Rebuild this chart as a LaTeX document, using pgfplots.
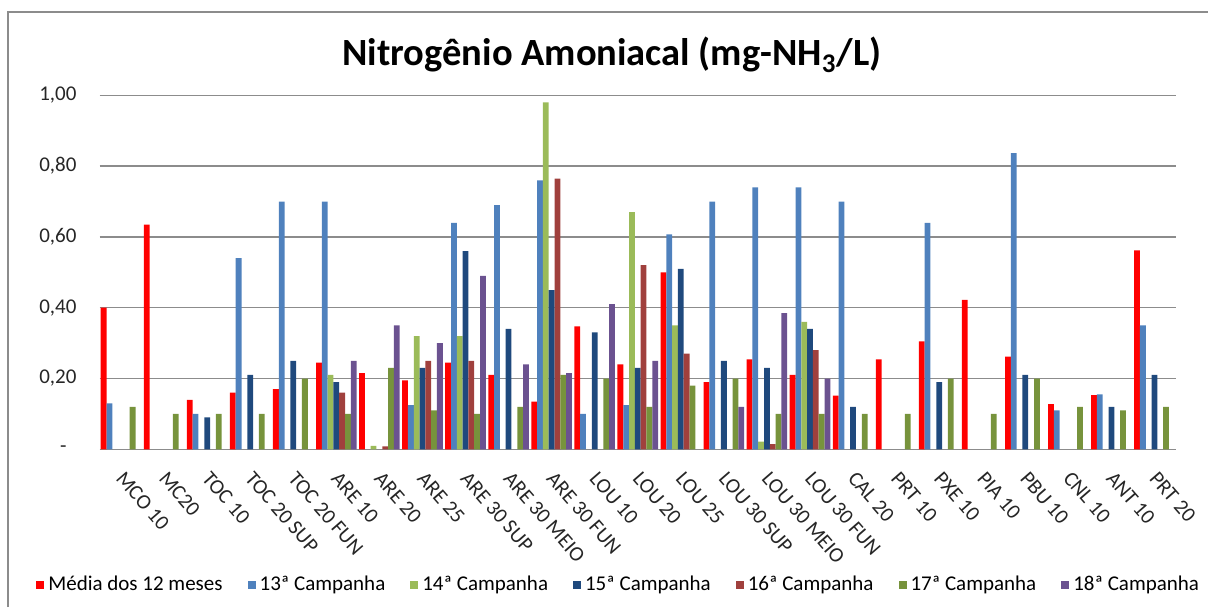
\documentclass[border=0pt]{standalone}
\usepackage{pgfplots}
\pgfplotsset{compat=1.18}
\usepackage{fontspec}
\setmainfont{Carlito}
\definecolor{cMed}{HTML}{FF0000}
\definecolor{c13}{HTML}{4F81BD}
\definecolor{c14}{HTML}{9BBB59}
\definecolor{c15}{HTML}{1F497D}
\definecolor{c16}{HTML}{A0403D}
\definecolor{c17}{HTML}{77933C}
\definecolor{c18}{HTML}{6B5290}
\definecolor{gridgray}{HTML}{8C8C8C}
\begin{document}
\begin{tikzpicture}
\useasboundingbox (0,0) rectangle (604pt,-303.5pt);
\draw[color=gridgray, line width=1pt] (4pt,-303.5pt) -- (4pt,-6pt) -- (604pt,-6pt);
\begin{axis}[
  at={(49.75pt,-224.65pt)}, anchor=south west,
  scale only axis, width=538.25pt, height=177pt,
  xmin=-0.5, xmax=24.5, ymin=0, ymax=1,
  ybar=0pt, bar width=2.9pt,
  xtick={0,...,24},
  xticklabels={MCO 10,MC20,TOC 10,TOC 20 SUP,TOC 20 FUN,ARE 10,ARE 20,ARE 25,ARE 30 SUP,ARE 30 MEIO,ARE 30 FUN,LOU 10,LOU 20,LOU 25,LOU 30 SUP,LOU 30 MEIO,LOU 30 FUN,CAL 20,PRT 10,PXE 10,PIA 10,PBU 10,CNL 10,ANT 10,PRT 20},
  ytick={0,0.2,0.4,0.6,0.8,1},
  yticklabels={{-\hspace*{5pt}},{0,20},{0,40},{0,60},{0,80},{1,00}},
  ymajorgrids, major grid style={gridgray, line width=0.65pt},
  axis line style={draw=none}, major tick length=0pt,
  tick label style={font=\fontsize{10.5}{12}\selectfont, text=black!85},
  yticklabel style={xshift=-8pt},
  xticklabel style={xshift=2.5pt, yshift=-5.5pt, rotate=-49, anchor=north west},
  every axis title shift=0pt,
  title={Nitrogênio Amoniacal (mg-NH\textsubscript{3}/L)},
  title style={at={(0.476,1.083)}, anchor=base, font=\fontsize{19.25}{22}\selectfont\bfseries},
  legend columns=7,
  legend style={at={(-0.0646,-0.383)}, anchor=west, draw=none, fill=none,
    font=\fontsize{10.5}{12}\selectfont,
    /tikz/every even column/.append style={column sep=10.5pt}},
  legend image code/.code={\draw[#1,draw=none] (0pt,-2pt) rectangle (4pt,2pt);},
]
\addplot[fill=cMed, draw=none] coordinates {(0,0.40) (1,0.635) (2,0.14) (3,0.16) (4,0.17) (5,0.245) (6,0.215) (7,0.195) (8,0.245) (9,0.21) (10,0.135) (11,0.347) (12,0.24) (13,0.50) (14,0.19) (15,0.254) (16,0.21) (17,0.152) (18,0.254) (19,0.305) (20,0.422) (21,0.262) (22,0.128) (23,0.153) (24,0.562)};
\addplot[fill=c13, draw=none] coordinates {(0,0.13) (2,0.10) (3,0.54) (4,0.70) (5,0.70) (7,0.125) (8,0.64) (9,0.69) (10,0.76) (11,0.10) (12,0.125) (13,0.607) (14,0.70) (15,0.74) (16,0.74) (17,0.70) (19,0.64) (21,0.837) (22,0.11) (23,0.155) (24,0.35)};
\addplot[fill=c14, draw=none] coordinates {(5,0.21) (6,0.01) (7,0.32) (8,0.32) (10,0.98) (12,0.67) (13,0.35) (15,0.022) (16,0.36)};
\addplot[fill=c15, draw=none] coordinates {(2,0.09) (3,0.21) (4,0.25) (5,0.19) (7,0.23) (8,0.56) (9,0.34) (10,0.45) (11,0.33) (12,0.23) (13,0.51) (14,0.25) (15,0.23) (16,0.34) (17,0.12) (19,0.19) (21,0.21) (23,0.12) (24,0.21)};
\addplot[fill=c16, draw=none] coordinates {(5,0.16) (6,0.008) (7,0.25) (8,0.25) (10,0.765) (12,0.52) (13,0.27) (15,0.015) (16,0.28)};
\addplot[fill=c17, draw=none] coordinates {(0,0.12) (1,0.10) (2,0.10) (3,0.10) (4,0.20) (5,0.10) (6,0.23) (7,0.11) (8,0.10) (9,0.12) (10,0.21) (11,0.20) (12,0.12) (13,0.18) (14,0.20) (15,0.10) (16,0.10) (17,0.10) (18,0.10) (19,0.20) (20,0.10) (21,0.20) (22,0.12) (23,0.11) (24,0.12)};
\addplot[fill=c18, draw=none] coordinates {(5,0.25) (6,0.35) (7,0.30) (8,0.49) (9,0.24) (10,0.215) (11,0.41) (12,0.25) (14,0.12) (15,0.385) (16,0.20)};
\legend{Média dos 12 meses,13ª Campanha,14ª Campanha,15ª Campanha,16ª Campanha,17ª Campanha,18ª Campanha}
\end{axis}
\end{tikzpicture}
\end{document}
